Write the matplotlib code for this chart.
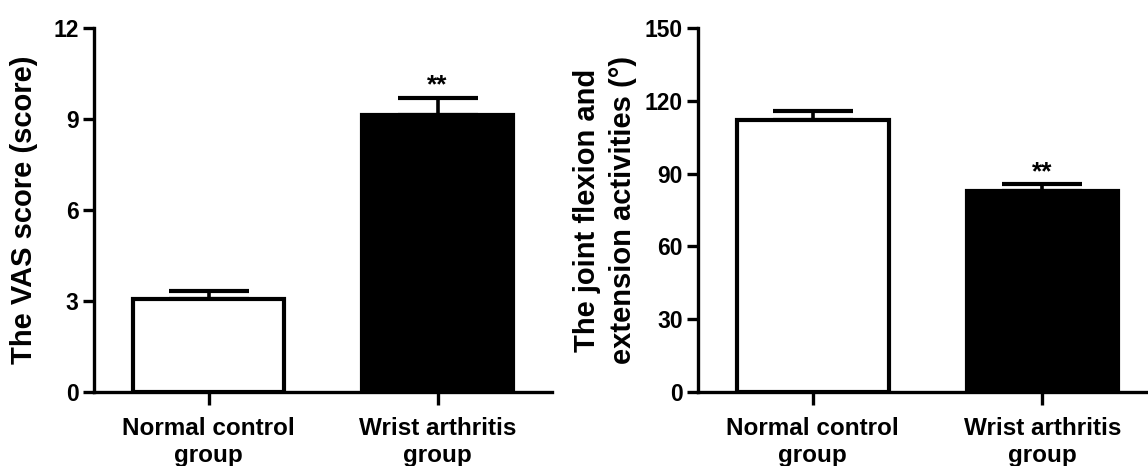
import matplotlib
matplotlib.use("Agg")
import matplotlib.pyplot as plt

# Group labels and measurements (mean and upper SEM)
groups = ["Normal control\ngroup", "Wrist arthritis\ngroup"]
vas_mean = [3.07, 9.13]
vas_sem = [0.27, 0.57]
rom_mean = [112.1, 82.8]
rom_sem = [3.7, 2.8]
bar_colors = ["white", "black"]
significance = ["", "**"]

vas_ticks = [0, 3, 6, 9, 12]
rom_ticks = [0, 30, 60, 90, 120, 150]

plt.rcParams["font.family"] = ["Liberation Sans", "DejaVu Sans"]
plt.rcParams["font.weight"] = "bold"

fig = plt.figure(figsize=(11.48, 4.66), dpi=100)
ax1 = fig.add_axes([94 / 1148, 1 - 392 / 466, (552 - 94) / 1148, (392 - 28) / 466])
ax2 = fig.add_axes([698 / 1148, 1 - 392 / 466, (1148 - 698) / 1148, (392 - 28) / 466])


def draw_panel(ax, means, sems, ticks, ylabel, xmax):
    x = list(range(len(means)))
    ax.bar(x, means, width=0.66, color=bar_colors, edgecolor="black",
           linewidth=3.0, zorder=2)
    ax.errorbar(x, means, yerr=[[0] * len(sems), sems], fmt="none",
                ecolor="black", elinewidth=2.6, capsize=29, capthick=3.0,
                zorder=1)
    for xi, m, s, lab in zip(x, means, sems, significance):
        if lab:
            ax.annotate(lab, (xi, m + s), xytext=(0, 0), textcoords="offset points",
                        ha="center", va="bottom", fontsize=19, fontweight="bold")
    ax.set_xlim(-0.5, xmax)
    ax.set_ylim(ticks[0], ticks[-1])
    ax.set_yticks(ticks)
    ax.set_xticks(x)
    ax.set_xticklabels(groups, fontsize=17.5, fontweight="bold", linespacing=1.2)
    for lbl in ax.get_yticklabels():
        lbl.set_fontsize(16.5)
        lbl.set_fontweight("bold")
    ax.set_ylabel(ylabel, fontsize=21, fontweight="bold", linespacing=1.35)
    for side in ("top", "right"):
        ax.spines[side].set_visible(False)
    for side in ("left", "bottom"):
        ax.spines[side].set_linewidth(2.4)
    ax.tick_params(axis="y", length=8, width=2.4, pad=3)
    ax.tick_params(axis="x", length=9, width=2.4, pad=9)
    ax.spines["bottom"].set_zorder(3)


draw_panel(ax1, vas_mean, vas_sem, vas_ticks, "The VAS score (score)", 1.5)
draw_panel(ax2, rom_mean, rom_sem, rom_ticks,
           "The joint flexion and\nextension activities (°)", 1.46)
ax1.yaxis.set_label_coords((38 - 94) / 458, 0.5)
ax2.yaxis.set_label_coords((637 - 698) / 450, 0.5)

fig.savefig("out.png", dpi=100)
